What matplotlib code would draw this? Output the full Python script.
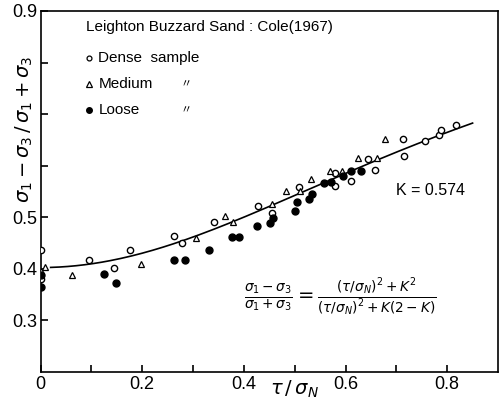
import numpy as np
import matplotlib
matplotlib.use('Agg')
import matplotlib.pyplot as plt

plt.rcParams['font.family'] = ['Liberation Sans', 'DejaVu Sans']
plt.rcParams['mathtext.fontset'] = 'dejavusans'

K = 0.574

dense_x = [0.000, 0.000, 0.096, 0.144, 0.176, 0.262, 0.279, 0.342, 0.427, 0.456, 0.508,
           0.580, 0.580, 0.610, 0.644, 0.659, 0.714, 0.716, 0.756, 0.784, 0.788, 0.818]
dense_y = [0.437, 0.380, 0.417, 0.401, 0.437, 0.464, 0.451, 0.491, 0.522, 0.508, 0.558,
           0.560, 0.586, 0.571, 0.613, 0.591, 0.652, 0.618, 0.647, 0.660, 0.670, 0.678]

medium_x = [0.000, 0.008, 0.062, 0.197, 0.305, 0.363, 0.379, 0.456, 0.482, 0.511,
            0.533, 0.569, 0.593, 0.624, 0.662, 0.678]
medium_y = [0.396, 0.403, 0.388, 0.410, 0.459, 0.503, 0.490, 0.525, 0.551, 0.551,
            0.575, 0.590, 0.590, 0.615, 0.615, 0.652]

loose_x = [0.000, 0.000, 0.124, 0.148, 0.263, 0.285, 0.331, 0.376, 0.390, 0.425, 0.451,
           0.457, 0.501, 0.505, 0.528, 0.535, 0.557, 0.572, 0.595, 0.610, 0.631]
loose_y = [0.388, 0.364, 0.390, 0.372, 0.417, 0.417, 0.437, 0.461, 0.461, 0.483, 0.489,
           0.498, 0.513, 0.529, 0.535, 0.546, 0.566, 0.569, 0.581, 0.589, 0.590]

x_ticks = [0, 0.1, 0.2, 0.3, 0.4, 0.5, 0.6, 0.7, 0.8]
x_labels = ['0', '', '0.2', '', '0.4', '', '0.6', '', '0.8']
y_ticks = [0.3, 0.4, 0.5, 0.6, 0.7, 0.8, 0.9]
y_labels = ['0.3', '0.4', '0.5', '', '', '', '0.9']

fig = plt.figure(figsize=(5, 4.01), dpi=100)
ax = fig.add_axes([0.081, 0.0723, 0.915, 0.9003])

# fitted curve from the equation on the chart
t = np.linspace(0.02, 0.85, 200)
ax.plot(t, (t**2 + K**2) / (t**2 + K * (2 - K)), color='black', lw=1.2, zorder=2)

ax.plot(dense_x, dense_y, 'o', ms=4.5, mfc='white', mec='black', mew=1.0, ls='none', zorder=3)
ax.plot(medium_x, medium_y, '^', ms=5, mfc='white', mec='black', mew=0.9, ls='none', zorder=3)
ax.plot(loose_x, loose_y, 'o', ms=5, mfc='black', mec='black', ls='none', zorder=3)

ax.set_xlim(0, 0.9)
ax.set_ylim(0.2, 0.9)
ax.set_xticks(x_ticks)
ax.set_xticklabels(x_labels)
ax.set_yticks(y_ticks)
ax.set_yticklabels(y_labels)
ax.tick_params(direction='in', length=5, width=1.2, labelsize=13, pad=3)
ax.tick_params(axis='y', pad=2)
for s in ax.spines.values():
    s.set_linewidth(1.2)

# legend block written as text, like the original
ax.text(0.090, 0.868, 'Leighton Buzzard Sand : Cole(1967)', fontsize=11, va='center')
ax.plot([0.095], [0.808], 'o', ms=3.5, mfc='white', mec='black', mew=0.9, clip_on=False)
ax.text(0.114, 0.808, 'Dense  sample', fontsize=11, va='center')
ax.plot([0.095], [0.758], '^', ms=4.5, mfc='white', mec='black', mew=0.9, clip_on=False)
ax.text(0.114, 0.758, 'Medium', fontsize=11, va='center')
ax.plot([0.095], [0.708], 'o', ms=4, mfc='black', mec='black', clip_on=False)
ax.text(0.114, 0.708, 'Loose', fontsize=11, va='center')
ax.text(0.275, 0.758, '\u3003', fontsize=8, va='center', family='Noto Sans CJK JP')
ax.text(0.275, 0.708, '\u3003', fontsize=8, va='center', family='Noto Sans CJK JP')

ax.text(0.700, 0.552, 'K = 0.574', fontsize=11.5, va='center')
ax.text(0.590, 0.344,
        r'$\frac{\sigma_1-\sigma_3}{\sigma_1+\sigma_3} = '
        r'\frac{(\tau/\sigma_N)^2+K^2}{(\tau/\sigma_N)^2+K(2-K)}$',
        fontsize=14, ha='center', va='center')

fig.text(24 / 500, 1 - 129 / 401, r'$\sigma_1 - \sigma_3\,/\,\sigma_1 + \sigma_3$',
         rotation=90, fontsize=14, ha='center', va='center')
fig.text(294 / 500, 1 - 389 / 401, r'$\tau\,/\,\sigma_N$', fontsize=14, ha='center', va='center')

fig.savefig('out.png', dpi=100)
